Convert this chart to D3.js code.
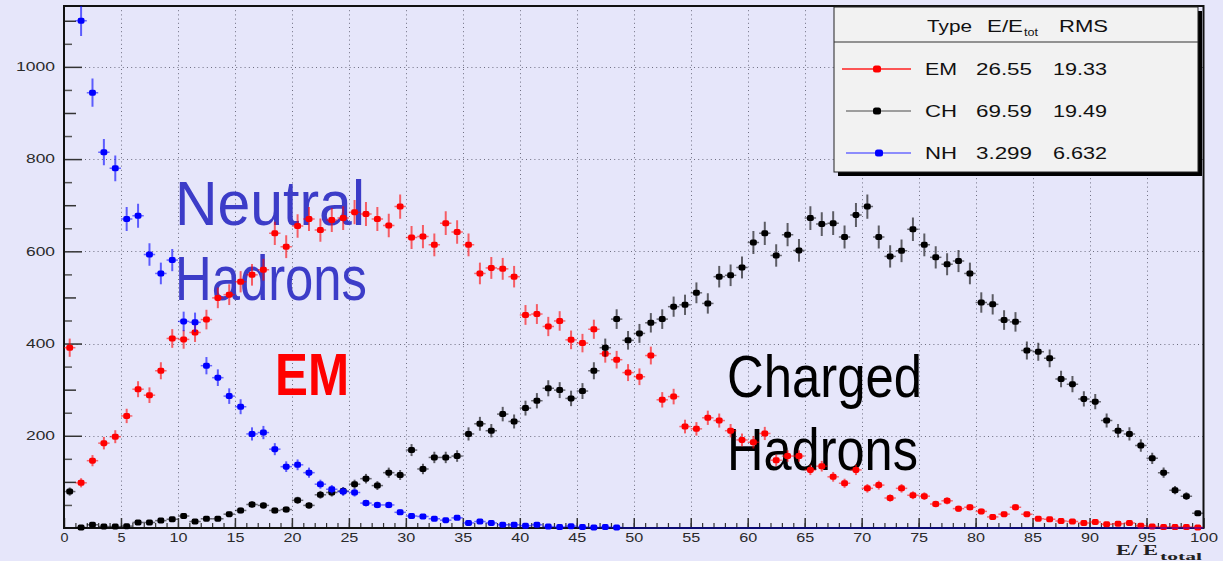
<!DOCTYPE html>
<html>
<head>
<meta charset="utf-8">
<script src="https://cdn.jsdelivr.net/npm/d3@7"></script>
<style>
  html, body { margin: 0; padding: 0; background: #e6e6fa; }
  svg { display: block; }
</style>
</head>
<body>
<svg id="chart" width="1223" height="561"></svg>
<script>
// Energy fraction histograms, 100 bins of width 1 on [0, 100]
const binLow = d3.range(0, 100);

// Electromagnetic (EM) counts per bin
const emCounts = [
  391, 98, 146, 184, 198, 243, 301, 288, 341, 411,
  409, 424, 452, 499, 506, 534, 549, 560, 639, 610,
  655, 670, 646, 668, 672, 685, 681, 670, 656, 697,
  630, 632, 614, 661, 642, 614, 552, 564, 562, 545,
  462, 464, 437, 449, 408, 401, 431, 378, 365, 337,
  328, 374, 278, 285, 220, 215, 239, 233, 211, 191,
  186, 205, 147, 156, 156, 126, 134, 111, 97, 126,
  86, 93, 65, 86, 71, 69, 52, 59, 42, 45,
  36, 24, 30, 45, 30, 20, 19, 15, 14, 11,
  13, 8, 9, 11, 5, 3, 2, 2, 2, 1
];

// Charged hadron (CH) counts per bin
const chCounts = [
  79, 1, 7, 3, 3, 4, 12, 12, 16, 19,
  26, 14, 20, 20, 30, 38, 51, 49, 38, 40,
  60, 49, 72, 77, 80, 95, 107, 92, 120, 115,
  169, 128, 153, 153, 156, 204, 226, 211, 247, 231,
  260, 276, 303, 299, 281, 297, 341, 391, 453, 407,
  422, 445, 453, 480, 484, 510, 487, 545, 548, 565,
  619, 639, 591, 636, 602, 672, 659, 661, 631, 679,
  697, 631, 589, 601, 648, 614, 587, 572, 579, 552,
  489, 485, 451, 447, 385, 382, 368, 323, 312, 280,
  274, 233, 211, 204, 179, 151, 120, 82, 69, 32
];

// Neutral hadron (NH) counts per bin (first bin lies far above the range)
const nhCounts = [
  22600, 1100, 944, 815, 780, 670, 677, 593, 552, 581,
  448, 446, 352, 326, 286, 263, 204, 207, 171, 133,
  137, 120, 95, 84, 79, 77, 54, 50, 50, 34,
  26, 25, 20, 17, 22, 11, 14, 11, 7, 7,
  5, 7, 3, 2, 4, 2, 1, 2, 1, 0,
  0, 0, 0, 0, 0, 0, 0, 0, 0, 0,
  0, 0, 0, 0, 0, 0, 0, 0, 0, 0,
  0, 0, 0, 0, 0, 0, 0, 0, 0, 0,
  0, 0, 0, 0, 0, 0, 0, 0, 0, 0,
  0, 0, 0, 0, 0, 0, 0, 0, 0, 0
];

const xTickLabels = d3.range(0, 101, 5);
const yTickLabels = [200, 400, 600, 800, 1000];

const legendTypes = ["EM", "CH", "NH"];
const legendMeans = ["26.55", "69.59", "3.299"];
const legendRms = ["19.33", "19.49", "6.632"];

const seriesColors = { EM: "#ff0000", CH: "#000000", NH: "#0000ff" };
const legendLineColors = { EM: "#ff2020", CH: "#808080", NH: "#6a6aff" };

// ----------------------------------------------------------------------
const svg = d3.select("#chart");
const W = 1223, H = 561;
const plot = { left: 64, right: 1203.5, top: 6, bottom: 528 };

const x = d3.scaleLinear().domain([0, 100]).range([plot.left, plot.right]);
const y = d3.scaleLinear().domain([0, 1132]).range([plot.bottom, plot.top]);

svg.append("rect").attr("width", W).attr("height", H).attr("fill", "#e6e6fa");

// clip region for the data
svg.append("defs").append("clipPath").attr("id", "plotClip")
  .append("rect")
  .attr("x", plot.left).attr("y", plot.top)
  .attr("width", plot.right - plot.left).attr("height", plot.bottom - plot.top + 3);

// ---- dotted grid
const grid = svg.append("g").attr("class", "grid")
  .attr("stroke", "#6e6e80").attr("stroke-width", 1).attr("stroke-dasharray", "1,3.2");
grid.selectAll("line.v").data(xTickLabels.filter(v => v > 0 && v < 100)).join("line")
  .attr("class", "v")
  .attr("x1", d => Math.round(x(d)) + 0.5).attr("x2", d => Math.round(x(d)) + 0.5)
  .attr("y1", plot.top).attr("y2", plot.bottom);
grid.selectAll("line.h").data(yTickLabels).join("line")
  .attr("class", "h")
  .attr("x1", plot.left).attr("x2", plot.right)
  .attr("y1", d => Math.round(y(d)) + 0.5).attr("y2", d => Math.round(y(d)) + 0.5);

// ---- annotation text
const notes = svg.append("g").attr("font-family", "'Liberation Sans', Arial, sans-serif");
function note(txt, px, py, size, len, color, weight) {
  notes.append("text")
    .attr("x", px).attr("y", py)
    .attr("font-size", size).attr("font-weight", weight || "normal")
    .attr("fill", color)
    .attr("textLength", len).attr("lengthAdjust", "spacingAndGlyphs")
    .text(txt);
}
note("Neutral", 175, 225, 63, 190, "#3c3cc8");
note("Hadrons", 175, 300, 63, 192, "#3c3cc8");
note("EM", 275, 395, 60, 74, "#ff0000", "bold");
note("Charged", 727, 397, 60, 195, "#000000");
note("Hadrons", 727, 470, 60, 191, "#000000");

// ---- axes
const labelFont = "'Liberation Sans', Arial, sans-serif";
const intFmt = d3.format("d");

// minor x ticks
svg.append("g").attr("transform", `translate(0,${plot.bottom})`)
  .call(d3.axisBottom(x).tickValues(d3.range(1, 100)).tickSizeInner(-5).tickSizeOuter(0).tickFormat(""))
  .call(g => g.select(".domain").remove())
  .call(g => g.selectAll("line").attr("stroke", "#333").attr("stroke-width", 1.2));

// major x ticks with labels
svg.append("g").attr("transform", `translate(0,${plot.bottom})`)
  .call(d3.axisBottom(x).tickValues(xTickLabels).tickSizeInner(-10).tickSizeOuter(0).tickPadding(5).tickFormat(intFmt))
  .call(g => g.select(".domain").remove())
  .call(g => g.selectAll("line").attr("stroke", "#333").attr("stroke-width", 1.5))
  .call(g => g.selectAll("text")
    .attr("font-family", labelFont).attr("font-size", 12).attr("fill", "#2a2a2a")
    .attr("textLength", d => String(d).length * 10 - 2)
    .attr("lengthAdjust", "spacingAndGlyphs"));

// y ticks: tertiary (50), secondary (100), primary (200, labelled)
svg.append("g").attr("transform", `translate(${plot.left},0)`)
  .call(d3.axisLeft(y).tickValues(d3.range(50, 1131, 50).filter(v => v % 100 !== 0)).tickSizeInner(-8).tickSizeOuter(0).tickFormat(""))
  .call(g => g.select(".domain").remove())
  .call(g => g.selectAll("line").attr("stroke", "#555").attr("stroke-width", 1.5));
svg.append("g").attr("transform", `translate(${plot.left},0)`)
  .call(d3.axisLeft(y).tickValues(d3.range(100, 1131, 200)).tickSizeInner(-12).tickSizeOuter(0).tickFormat(""))
  .call(g => g.select(".domain").remove())
  .call(g => g.selectAll("line").attr("stroke", "#333").attr("stroke-width", 1.5));
svg.append("g").attr("transform", `translate(${plot.left},0)`)
  .call(d3.axisLeft(y).tickValues(yTickLabels).tickSizeInner(-18).tickSizeOuter(0).tickPadding(9).tickFormat(intFmt))
  .call(g => g.select(".domain").remove())
  .call(g => g.selectAll("line").attr("stroke", "#333").attr("stroke-width", 1.5))
  .call(g => g.selectAll("text")
    .attr("font-family", labelFont).attr("font-size", 12).attr("fill", "#2a2a2a")
    .attr("textLength", d => String(d).length * 10 - 1)
    .attr("lengthAdjust", "spacingAndGlyphs"));

// frame
svg.append("rect")
  .attr("x", plot.left).attr("y", plot.top)
  .attr("width", plot.right - plot.left).attr("height", plot.bottom - plot.top)
  .attr("fill", "none").attr("stroke", "#111").attr("stroke-width", 2);

// x axis title
const xt = svg.append("text")
  .attr("x", 1116).attr("y", 555)
  .attr("font-family", "'Liberation Serif', 'Times New Roman', serif")
  .attr("font-weight", "bold").attr("font-size", 14).attr("fill", "#222");
xt.append("tspan").attr("textLength", 42).attr("lengthAdjust", "spacingAndGlyphs").text("E/ E");
xt.append("tspan").attr("dx", 2).attr("dy", 5).attr("font-size", 10)
  .attr("textLength", 42).attr("lengthAdjust", "spacingAndGlyphs").text("total");

// ---- data points with errors
const series = [
  { name: "EM", counts: emCounts },
  { name: "CH", counts: chCounts },
  { name: "NH", counts: nhCounts }
];

const dataLayer = svg.append("g").attr("clip-path", "url(#plotClip)");
series.forEach(s => {
  const col = seriesColors[s.name];
  const pts = binLow.map(i => ({ lo: i, c: i + 0.5, v: s.counts[i], e: Math.sqrt(s.counts[i]) }));
  const g = dataLayer.append("g");
  // horizontal bars: bin width
  g.selectAll("line.hb").data(pts).join("line")
    .attr("class", "hb")
    .attr("x1", d => x(d.lo)).attr("x2", d => x(d.lo + 1))
    .attr("y1", d => y(d.v)).attr("y2", d => y(d.v))
    .attr("stroke", col).attr("stroke-opacity", 0.55).attr("stroke-width", 1.5);
  // vertical bars: statistical error
  g.selectAll("line.vb").data(pts.filter(d => d.v > 0)).join("line")
    .attr("class", "vb")
    .attr("x1", d => x(d.c)).attr("x2", d => x(d.c))
    .attr("y1", d => y(d.v - d.e)).attr("y2", d => y(d.v + d.e))
    .attr("stroke", col).attr("stroke-opacity", 0.6).attr("stroke-width", 2);
  // markers
  g.selectAll("rect.mk").data(pts.filter(d => d.v > 0)).join("rect")
    .attr("class", "mk")
    .attr("x", d => x(d.c) - 3.4).attr("y", d => y(d.v) - 3)
    .attr("width", 6.8).attr("height", 6).attr("rx", 1.8)
    .attr("fill", col);
});

// ---- legend
const lg = svg.append("g").attr("font-family", labelFont);
const box = { x: 834, y: 7, w: 364, h: 165 };
lg.append("rect").attr("x", box.x + 4).attr("y", box.y + 4).attr("width", box.w).attr("height", box.h).attr("fill", "#000");
lg.append("rect").attr("x", box.x).attr("y", box.y).attr("width", box.w).attr("height", box.h)
  .attr("fill", "#f2f2f2").attr("stroke", "#222").attr("stroke-width", 1);
lg.append("line").attr("x1", box.x).attr("x2", box.x + box.w).attr("y1", 42).attr("y2", 42)
  .attr("stroke", "#333").attr("stroke-width", 1);

function ltext(txt, px, py, len, size, anchor) {
  return lg.append("text").attr("x", px).attr("y", py)
    .attr("font-size", size || 16).attr("fill", "#111")
    .attr("text-anchor", anchor || "start")
    .attr("textLength", len).attr("lengthAdjust", "spacingAndGlyphs")
    .text(txt);
}
ltext("Type", 927, 32, 45);
ltext("E/E", 987, 32, 36);
ltext("tot", 1024, 36, 14, 10);
ltext("RMS", 1059, 32, 49);

const rowY = [69, 111, 153];
legendTypes.forEach((t, k) => {
  const yy = rowY[k];
  lg.append("line")
    .attr("x1", k === 0 ? 842 : 846).attr("x2", 911).attr("y1", yy).attr("y2", yy)
    .attr("stroke", legendLineColors[t]).attr("stroke-width", 1.5);
  lg.append("rect")
    .attr("x", (k === 2 ? 879 : 877) - 4).attr("y", yy - 3.5)
    .attr("width", 8).attr("height", 7).attr("rx", 2.5)
    .attr("fill", seriesColors[t]);
  ltext(t, 925, yy + 5.5, 32);
  ltext(legendMeans[k], 976, yy + 5.5, 56);
  ltext(legendRms[k], 1107, yy + 5.5, 54, 16, "end");
});
</script>
</body>
</html>
